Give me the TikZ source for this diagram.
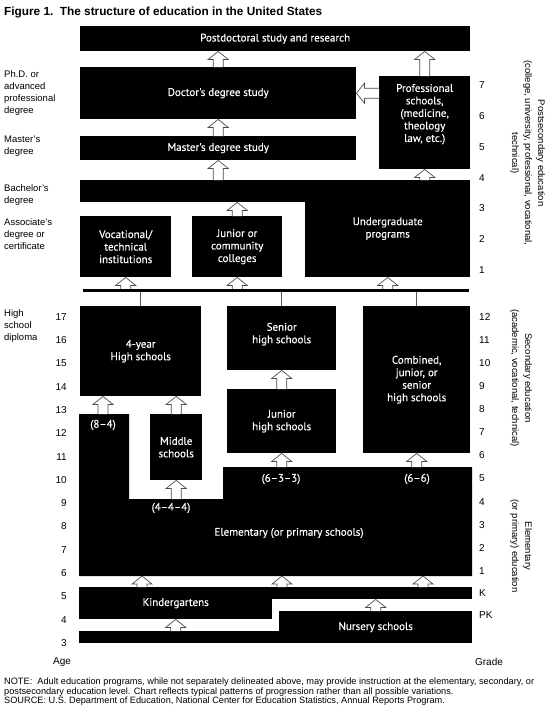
\documentclass[tikz,border=0pt]{standalone}
\usepackage{fontspec}
\setmainfont{Liberation Sans}
\newfontfamily\boxfont[FakeBold=0.3]{PT Sans}
\usetikzlibrary{positioning,calc}

\tikzset{
  blk/.style={rectangle, fill=black, text=white, inner sep=0pt, anchor=north west, align=center, font=\boxfont\fontsize{11}{12.5}\selectfont},
  wtxt/.style={text=white, inner sep=0pt, align=center, font=\boxfont\fontsize{11}{12.5}\selectfont},
  side/.style={inner sep=0pt, anchor=north west, align=left, font=\fontsize{9.5}{12}\selectfont},
  num/.style={inner sep=0pt, font=\fontsize{10}{12}\selectfont},
  vlab/.style={inner sep=0pt, align=center, rotate=-90, anchor=south, font=\fontsize{9.5}{13}\selectfont},
  link/.style={draw=black!65, line width=0.8pt},
  uparr/.style={draw=black!70, fill=white, line width=0.7pt, to path={
      ([xshift=-5pt]\tikztostart) -- ([xshift=-5pt,yshift=-8pt]\tikztotarget)
      -- ([xshift=-10pt,yshift=-8pt]\tikztotarget) -- (\tikztotarget)
      -- ([xshift=10pt,yshift=-8pt]\tikztotarget) -- ([xshift=5pt,yshift=-8pt]\tikztotarget)
      -- ([xshift=5pt]\tikztostart)}},
  leftarr/.style={draw=black!70, fill=white, line width=0.7pt, to path={
      ([yshift=5pt]\tikztostart) -- ([xshift=8pt,yshift=5pt]\tikztotarget)
      -- ([xshift=8pt,yshift=10pt]\tikztotarget) -- (\tikztotarget)
      -- ([xshift=8pt,yshift=-10pt]\tikztotarget) -- ([xshift=8pt,yshift=-5pt]\tikztotarget)
      -- ([yshift=-5pt]\tikztostart)}}
}

\begin{document}
\begin{tikzpicture}[x=1pt, y=-1pt]
  \useasboundingbox[fill=white] (0,0) rectangle (550,710);

  \node[anchor=west, inner sep=0pt, font=\bfseries\fontsize{11.8}{13}\selectfont] (title) at (4,12) {Figure 1.\ \ The structure of education in the United States};

  % postsecondary
  \node[blk, minimum width=390pt, minimum height=25pt] (post) at (80,26) {Postdoctoral study and research};
  \node[blk, minimum width=276pt, minimum height=52pt] (doc) at (80,67) {Doctor's degree study};
  \node[blk, minimum width=276pt, minimum height=24pt] (mast) at (80,136) {Master's degree study};
  \node[blk, minimum width=91pt, minimum height=93pt] (prof) at (379,76) {};
  \node[wtxt] (proft) at ([yshift=8.5pt]prof.center) {Professional\\schools,\\(medicine,\\theology\\law, etc.)};
  \node[blk, minimum width=390pt, minimum height=22pt] (bach) at (80,180) {};
  \node[blk, minimum width=165pt, minimum height=97pt] (ugrad) at (305,180) {Undergraduate\\programs};
  \node[blk, minimum width=91pt, minimum height=61pt] (voc) at (80,216) {Vocational/\\technical\\institutions};
  \node[blk, minimum width=90pt, minimum height=61pt] (jc) at (192,216) {Junior or\\community\\colleges};

  % secondary
  \node[blk, minimum width=121pt, minimum height=90pt] (hs4) at (80,306) {4-year\\High schools};
  \node[blk, minimum width=109pt, minimum height=64pt] (shs) at (227,306) {};
  \node[wtxt] (shst) at ([yshift=4pt]shs.center) {Senior\\high schools};
  \node[blk, minimum width=109pt, minimum height=64pt] (jhs) at (227,389) {Junior\\high schools};
  \node[blk, minimum width=107pt, minimum height=147pt] (comb) at (363,306) {Combined,\\junior, or\\senior\\high schools};
  \node[blk, minimum width=52pt, minimum height=66pt] (mid) at (150,414) {Middle\\schools};

  % elementary
  \fill (79,414) coordinate (e84) -- (129,414) -- (129,499) coordinate (enotch) -- (223,499)
    -- (223,467) coordinate (etop) -- (472,467) -- (472,576) coordinate (ebot) -- (79,576) -- cycle;
  \node[wtxt] (t84) at (103,425) {(8–4)};
  \node[wtxt] (t444) at (171,508) {(4–4–4)};
  \node[wtxt] (t633) at (281,479) {(6–3–3)};
  \node[wtxt] (t66) at (417,479) {(6–6)};
  \node[wtxt] (elem) at (289,533) {Elementary (or primary schools)};

  % preprimary
  \node[blk, minimum width=193pt, minimum height=32pt] (kin) at (79,587) {Kindergartens};
  \node[blk, minimum width=200pt, minimum height=12pt] (kinr) at (272,587) {};
  \node[blk, minimum width=200pt, minimum height=12pt] (nurl) at (79,631) {};
  \node[blk, minimum width=193pt, minimum height=32pt] (nur) at (279,611) {Nursery schools};

  % arrows
  \draw[uparr] (doc.north) to (doc.north |- post.south);
  \draw[uparr] (mast.north) to (mast.north |- doc.south);
  \draw[uparr] (mast.south |- bach.north) to (mast.south);
  \draw[uparr] (prof.north) to (prof.north |- post.south);
  \draw[uparr] (prof.south |- bach.north) to (prof.south);
  \draw[leftarr] (prof.west |- doc.east) to (doc.east);
  \draw[uparr] (jc.north) to (jc.north |- bach.south);

  \coordinate (barl) at (83,290);
  \coordinate (barr) at (469,290);
  \foreach \n in {voc,jc,ugrad}
    \draw[uparr] (\n.south |- barl) to (\n.south);
  \foreach \n in {hs4,shs,comb}
    \draw[link] (\n.north) -- (\n.north |- barl);
  \draw[line width=3pt] (barl) -- (barr);

  \draw[uparr] (e84 -| t84) to (t84 |- hs4.south);
  \draw[uparr] (mid.north) to (mid.north |- hs4.south);
  \draw[uparr] (mid.south |- enotch) to (mid.south);
  \draw[uparr] (jhs.north) to (shs.south);
  \draw[uparr] (jhs.south |- etop) to (jhs.south);
  \draw[uparr] (comb.south |- etop) to (comb.south);

  \coordinate (ka) at (142,587);
  \coordinate (kb) at (282,587);
  \coordinate (kc) at (423,587);
  \foreach \n in {ka,kb,kc}
    \draw[uparr] (\n) to (\n |- ebot);
  \draw[uparr] (kin.south |- nurl.north) to (kin.south);
  \draw[uparr] (nur.north) to (nur.north |- kinr.south);

  % left labels
  \node[side] (phd) at (4,70) {Ph.D. or\\advanced\\professional\\degree};
  \node[side] (ms) at (4,136) {Master's\\degree};
  \node[side] (ba) at (4,184) {Bachelor's\\degree};
  \node[side] (aa) at (4,218) {Associate's\\degree or\\certificate};
  \node[side] (hsd) at (4,309) {High\\school\\diploma};

  % ages and grades
  \foreach \a in {3,...,17}
    \node[num, anchor=east] (age\a) at (67,{643-(\a-3)*23.3}) {\a};
  \node[num] (age) at (62,662) {Age};
  \foreach \g in {1,...,7}
    \node[num, anchor=west] (ps\g) at (479,{270-(\g-1)*30.8}) {\g};
  \foreach \g in {1,...,12}
    \node[num, anchor=west] (gr\g) at (479,{571-(\g-1)*23.1}) {\g};
  \node[num, anchor=west] (grk) at (479,593) {K};
  \node[num, anchor=west] (grpk) at (479,615) {PK};
  \node[num] (grade) at (489,662) {Grade};

  % right labels
  \node[vlab] (psl) at (510,153) {Postsecondary education\\(college, university, professional, vocational,\\technical)};
  \node[vlab] (secl) at (510,378) {Secondary education\\(academic, vocational, technical)};
  \node[vlab] (elel) at (510,546) {Elementary\\(or primary) education};

  \node[anchor=north west, inner sep=0pt, align=left, font=\fontsize{9.2}{9.3}\selectfont] (note) at (4,678)
    {NOTE:\ \ Adult education programs, while not separately delineated above, may provide instruction at the elementary, secondary, or\\
     postsecondary education level. Chart reflects typical patterns of progression rather than all possible variations.\\
     SOURCE: U.S. Department of Education, National Center for Education Statistics, Annual Reports Program.};
\end{tikzpicture}
\end{document}
